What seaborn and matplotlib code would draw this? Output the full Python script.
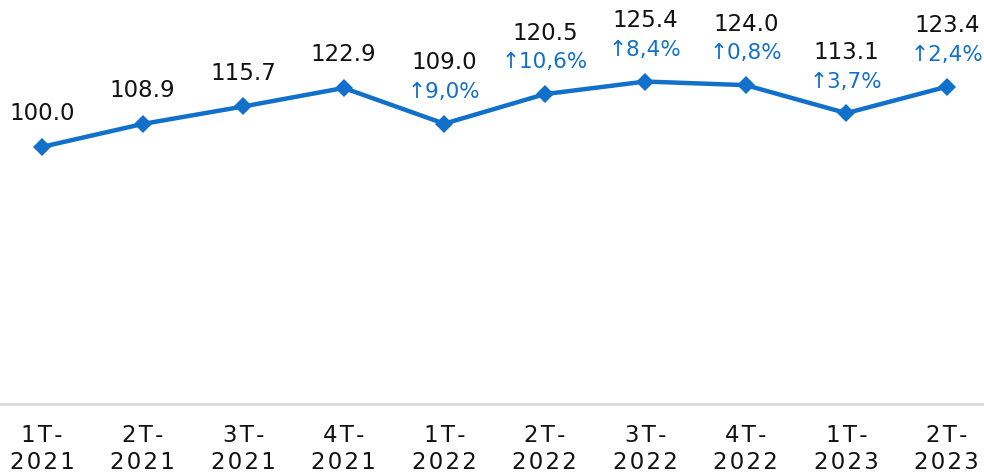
import numpy as np
import pandas as pd
import matplotlib.pyplot as plt
import seaborn as sns

quarters = ["1T-\n2021", "2T-\n2021", "3T-\n2021", "4T-\n2021", "1T-\n2022",
            "2T-\n2022", "3T-\n2022", "4T-\n2022", "1T-\n2023", "2T-\n2023"]
values = [100.0, 108.9, 115.7, 122.9, 109.0, 120.5, 125.4, 124.0, 113.1, 123.4]
# year-on-year change, only from 2022 onwards
yoy = [None, None, None, None, "9,0%", "10,6%", "8,4%", "0,8%", "3,7%", "2,4%"]

blue = "#1170c9"

sns.set_style("white")
plt.rcParams['font.family'] = ['DejaVu Sans']


def spaced(s):
    # the tick labels are drawn with wide letter spacing
    return "\n".join("\u200a".join(line) for line in s.split("\n"))


df = pd.DataFrame({"idx": range(len(values)), "value": values})

fig = plt.figure(figsize=(9.84, 4.77), dpi=100)
ax = fig.add_axes([0, 0.151, 1, 0.849])

sns.lineplot(data=df, x="idx", y="value", ax=ax, color=blue, linewidth=3.2,
             marker="D", markersize=9, markeredgewidth=0)

for i, v in enumerate(values):
    if yoy[i] is None:
        ax.annotate(f"{v:.1f}", (i, v), xytext=(0, 24.5), textcoords="offset points",
                    ha="center", va="center", fontsize=16.5, color="#111111")
    else:
        ax.annotate("↑" + yoy[i], (i, v), xytext=(0, 23.5), textcoords="offset points",
                    ha="center", va="center", fontsize=15.5, color=blue)
        ax.annotate(f"{v:.1f}", (i, v), xytext=(0, 44.5), textcoords="offset points",
                    ha="center", va="center", fontsize=16.5, color="#111111")

ax.set_xlim(-0.42, 9.37)
ax.set_ylim(0, 157.5)
ax.set_xticks(range(len(quarters)))
ax.set_xticklabels([spaced(q) for q in quarters], fontsize=16.5, color="#111111",
                   linespacing=1.2)
ax.tick_params(axis="x", length=0, pad=14)
ax.set_yticks([])
ax.set_xlabel("")
ax.set_ylabel("")
for s in ["top", "left", "right"]:
    ax.spines[s].set_visible(False)
ax.spines["bottom"].set_color("#d9d9d9")
ax.spines["bottom"].set_linewidth(2)

fig.savefig("out.png", dpi=100)
